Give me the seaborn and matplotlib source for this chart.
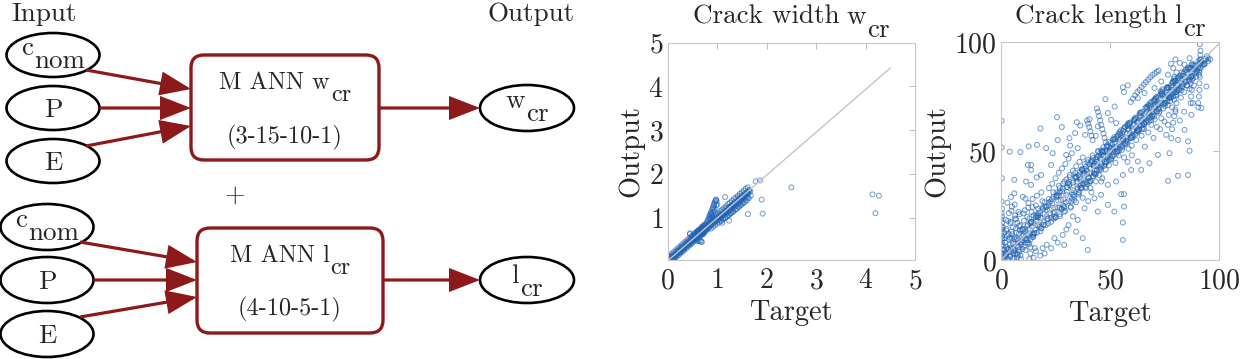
import matplotlib
matplotlib.use("Agg")
import numpy as np
import pandas as pd
import matplotlib.pyplot as plt
import matplotlib.transforms as mtransforms
from matplotlib.patches import Ellipse, FancyBboxPatch, FancyArrowPatch, ArrowStyle
import seaborn as sns

# ------------------------------------------------------------------ data
# Diagram text
input_labels = [("c", "nom"), ("P", None), ("E", None)]
model_names = [("M ANN w", "cr"), ("M ANN l", "cr")]
model_arch = ["(3-15-10-1)", "(4-10-5-1)"]
output_labels = [("w", "cr"), ("l", "cr")]

# Crack width w_cr : target / output
w_band1_t = [0.01, 0.02, 0.03, 0.05, 0.06, 0.08, 0.09, 0.11, 0.12, 0.14, 0.15, 0.17, 0.18, 0.20, 0.22, 0.23,
             0.25, 0.27, 0.28, 0.30, 0.32, 0.33, 0.35, 0.37, 0.38, 0.40, 0.42, 0.43, 0.45, 0.47, 0.48, 0.50]
w_band1_o = [0.05, 0.09, 0.04, 0.10, 0.05, 0.12, 0.07, 0.14, 0.09, 0.16, 0.12, 0.15, 0.21, 0.17, 0.25, 0.20,
             0.22, 0.30, 0.25, 0.27, 0.35, 0.29, 0.33, 0.40, 0.35, 0.37, 0.45, 0.39, 0.43, 0.50, 0.44, 0.47]
w_band1b_t = [0.02, 0.04, 0.07, 0.10, 0.13, 0.16, 0.19, 0.21, 0.24, 0.26, 0.29, 0.31, 0.34, 0.36, 0.39, 0.41,
              0.44, 0.46, 0.49, 0.52]
w_band1b_o = [0.02, 0.07, 0.06, 0.08, 0.11, 0.18, 0.16, 0.24, 0.20, 0.28, 0.33, 0.27, 0.31, 0.39, 0.42, 0.38,
              0.41, 0.48, 0.52, 0.49]
w_band2_t = [0.52, 0.54, 0.55, 0.57, 0.58, 0.60, 0.61, 0.63, 0.64, 0.66, 0.67, 0.69, 0.70, 0.72, 0.73, 0.75,
             0.76, 0.78, 0.79, 0.80]
w_band2_o = [0.56, 0.50, 0.60, 0.53, 0.62, 0.56, 0.66, 0.58, 0.69, 0.61, 0.72, 0.64, 0.76, 0.67, 0.78, 0.70,
             0.81, 0.73, 0.84, 0.76]
w_band2b_t = [0.53, 0.56, 0.59, 0.62, 0.65, 0.68, 0.71, 0.74, 0.77, 0.80, 0.60, 0.63, 0.66, 0.68, 0.45, 0.50,
              0.70, 0.74]
w_band2b_o = [0.53, 0.57, 0.59, 0.63, 0.65, 0.68, 0.72, 0.74, 0.77, 0.81, 0.47, 0.46, 0.47, 0.45, 0.62, 0.58,
              0.79, 0.83]
w_bulge_t = [0.55, 0.58, 0.60, 0.62, 0.64, 0.66, 0.68, 0.70, 0.72, 0.74, 0.57, 0.61, 0.65, 0.69, 0.73, 0.77]
w_bulge_o = [0.63, 0.66, 0.52, 0.70, 0.57, 0.73, 0.60, 0.77, 0.62, 0.69, 0.49, 0.69, 0.58, 0.74, 0.65, 0.72]
w_band3_t = [0.81, 0.83, 0.84, 0.86, 0.87, 0.89, 0.90, 0.92, 0.93, 0.95, 0.96, 0.98, 0.99, 1.01, 1.02, 1.04]
w_band3_o = [0.80, 0.86, 0.78, 0.89, 0.82, 0.91, 0.85, 0.95, 0.87, 0.97, 0.90, 1.00, 0.92, 1.02, 0.95, 1.05]
w_tongue_t = [0.80, 0.82, 0.84, 0.85, 0.87, 0.88, 0.90, 0.91, 0.92, 0.93, 0.94, 0.95, 0.96, 0.97, 0.98, 0.99,
              0.86, 0.89, 0.92, 0.95, 0.98, 1.00, 0.84, 0.88, 0.90, 0.94]
w_tongue_o = [0.92, 0.97, 1.02, 1.06, 1.10, 1.13, 1.18, 1.21, 1.24, 1.28, 1.31, 1.34, 1.37, 1.40, 1.41, 1.38,
              1.00, 1.05, 1.12, 1.20, 1.28, 1.30, 0.95, 1.08, 1.02, 1.15]
w_band4_t = [1.05, 1.07, 1.08, 1.10, 1.12, 1.13, 1.15, 1.17, 1.18, 1.20, 1.22, 1.23, 1.25, 1.27, 1.28, 1.30,
             1.32, 1.33, 1.35, 1.37, 1.38, 1.40, 1.42, 1.43, 1.45, 1.47, 1.48, 1.50, 1.52, 1.53, 1.55, 1.57,
             1.58, 1.60, 1.62, 1.63, 1.65, 1.67]
w_band4_o = [1.08, 0.93, 1.02, 1.12, 0.97, 1.06, 1.16, 1.00, 1.10, 1.22, 1.05, 1.14, 1.25, 1.09, 1.18, 1.30,
             1.14, 1.22, 1.35, 1.19, 1.27, 1.41, 1.25, 1.32, 1.46, 1.30, 1.37, 1.50, 1.35, 1.42, 1.55, 1.40,
             1.48, 1.58, 1.46, 1.54, 1.62, 1.60]
w_band4b_t = [1.06, 1.09, 1.11, 1.14, 1.16, 1.19, 1.21, 1.24, 1.26, 1.29, 1.31, 1.34, 1.36, 1.39, 1.41, 1.44,
              1.46, 1.49, 1.51, 1.54, 1.56, 1.59, 1.61, 1.64]
w_band4b_o = [1.00, 1.05, 1.08, 1.09, 1.13, 1.15, 1.18, 1.20, 1.24, 1.25, 1.28, 1.30, 1.33, 1.35, 1.38, 1.40,
              1.42, 1.45, 1.47, 1.50, 1.52, 1.55, 1.57, 1.63]
w_extra_t = [0.03, 0.07, 0.11, 0.13, 0.18, 0.21, 0.26, 0.29, 0.33, 0.36, 0.41, 0.44, 0.47, 0.51, 0.55, 0.58,
             0.62, 0.65, 0.69, 0.72, 0.75, 0.78, 0.82, 0.85, 0.88, 0.91, 0.94, 0.97, 1.00, 1.03, 1.06, 1.09,
             1.12, 1.15, 1.18, 1.21, 1.24, 1.27, 1.30, 1.33, 1.36, 1.39, 1.42, 1.45, 1.48, 1.51, 1.54, 1.57,
             1.60, 1.63]
w_extra_o = [0.08, 0.04, 0.13, 0.08, 0.15, 0.23, 0.22, 0.32, 0.30, 0.34, 0.43, 0.40, 0.49, 0.48, 0.58, 0.55,
             0.60, 0.67, 0.66, 0.75, 0.71, 0.80, 0.77, 0.84, 0.83, 0.88, 0.92, 0.93, 0.97, 0.99, 1.03, 1.06,
             1.05, 1.12, 1.14, 1.12, 1.20, 1.22, 1.21, 1.29, 1.31, 1.33, 1.38, 1.39, 1.43, 1.45, 1.48, 1.52,
             1.53, 1.58]
w_wide_t = [0.04, 0.08, 0.12, 0.16, 0.20, 0.24, 0.28, 0.32, 0.36, 0.40, 0.44, 0.48, 0.52, 0.56, 0.60, 0.64,
            0.68, 0.72, 0.76, 0.80, 0.06, 0.10, 0.14, 0.18, 0.22, 0.26, 0.30, 0.34, 0.38, 0.42, 0.46, 0.50,
            0.54, 0.58, 0.62, 0.66, 0.70, 0.74, 0.78, 0.82]
w_wide_o = [0.13, 0.17, 0.21, 0.25, 0.29, 0.33, 0.37, 0.41, 0.45, 0.49, 0.53, 0.57, 0.61, 0.65, 0.69, 0.73,
            0.77, 0.81, 0.85, 0.89, 0.05, 0.04, 0.07, 0.10, 0.14, 0.18, 0.22, 0.26, 0.30, 0.34, 0.38, 0.42,
            0.46, 0.50, 0.54, 0.58, 0.62, 0.66, 0.70, 0.74]
w_wide2_t = [0.86, 0.90, 0.94, 0.98, 1.02, 1.06, 1.10, 1.14, 1.18, 1.22, 1.26, 1.30, 1.34, 1.38, 1.42, 1.46,
             1.50, 1.54, 1.58, 1.62, 0.88, 0.92, 0.96, 1.00, 1.04, 1.08, 1.12, 1.16, 1.20, 1.24, 1.28, 1.32,
             1.36, 1.40, 1.44, 1.48, 1.52, 1.56, 1.60, 1.64]
w_wide2_o = [0.96, 0.99, 1.04, 1.07, 1.10, 1.15, 1.18, 1.22, 1.26, 1.31, 1.34, 1.38, 1.43, 1.46, 1.50, 1.54,
             1.58, 1.62, 1.66, 1.69, 0.75, 0.79, 0.83, 0.86, 0.89, 0.92, 0.96, 0.99, 1.02, 1.06, 1.10, 1.13,
             1.17, 1.20, 1.24, 1.28, 1.32, 1.35, 1.39, 1.44]
w_outlier_t = [1.16, 1.24, 1.62, 1.92, 1.90, 1.68, 1.78, 1.87, 2.50, 4.14, 4.27, 4.20, 0.45, 0.69, 1.10]
w_outlier_o = [1.47, 0.93, 1.08, 1.09, 1.41, 1.50, 1.83, 1.85, 1.69, 1.53, 1.50, 1.10, 0.64, 0.44, 0.88]
w_fit_t = [0.0, 4.5]
w_fit_o = [0.01, 4.42]

# Crack length l_cr : target / output
l_col0_t = [0.2, 0.4, 0.3, 0.5, 0.2, 0.4, 0.3, 0.5, 0.2, 0.4, 0.3, 0.5, 0.2, 0.4, 0.3, 0.5, 0.2, 0.4, 0.3, 0.3]
l_col0_o = [0.5, 2, 3.5, 5, 6.5, 8, 9.5, 11, 12.5, 14, 15.5, 17, 18.5, 20, 21.5, 23.5, 26.8, 37.5, 51.6, 63.9]
l_orig_t = [1.2, 1.5, 1.8, 2.2, 2.5, 2.8, 3.2, 3.5, 3.8, 4.2, 4.5, 4.8, 5.2, 5.5, 5.8, 6.2, 6.5, 6.8, 7.2, 7.5,
            7.8, 8.2, 8.5, 8.8, 9.2, 9.5, 9.8]
l_orig_o = [1.0, 4.5, 8.0, 2.0, 6.0, 11.0, 0.5, 3.5, 9.5, 1.5, 5.5, 13.0, 0.8, 7.5, 4.0, 10.5, 2.5, 14.5, 6.5,
            1.2, 9.0, 12.0, 3.8, 16.0, 7.5, 11.0, 5.0]
l_orig2_t = [1.0, 2.0, 3.0, 4.0, 5.0, 6.0, 7.0, 8.0, 9.0, 10.0, 1.5, 2.5, 3.5, 4.5, 5.5, 6.5, 7.5, 8.5, 9.5, 10.5,
             0.8, 2.2, 3.6, 5.0]
l_orig2_o = [2.5, 3.0, 5.0, 7.0, 10.0, 4.5, 12.5, 6.0, 2.0, 9.0, 10.0, 13.5, 12.0, 17.5, 15.0, 19.0, 17.0, 21.0,
             14.0, 18.0, 15.0, 18.5, 21.5, 24.5]
l_orig3_t = [0.9, 1.7, 2.6, 3.4, 4.3, 5.1, 6.0, 6.9, 7.7, 8.6, 9.4, 10.3, 11.2, 12.1, 13.0, 13.9, 14.8, 0.6, 1.4,
             2.3, 3.1, 4.0, 4.8, 5.7, 6.5, 7.4, 8.3, 9.1, 10.0, 10.9, 11.7, 12.6, 13.5, 14.4, 15.3, 16.1, 2.9,
             4.6, 6.3, 8.0]
l_orig3_o = [6.8, 0.3, 14.2, 4.9, 16.8, 11.8, 0.9, 18.7, 2.4, 13.7, 8.3, 21.4, 4.6, 19.8, 7.2, 17.3, 11.4, 9.8,
             12.7, 1.6, 17.9, 10.2, 22.6, 5.2, 20.4, 3.1, 15.6, 0.4, 13.9, 22.8, 9.3, 26.1, 5.8, 24.3, 12.2, 19.7,
             26.3, 28.9, 25.4, 22.1]
l_b_t = [10.5, 11.0, 11.5, 12.0, 12.5, 13.0, 13.5, 14.0, 14.5, 15.0, 15.5, 16.0, 16.5, 17.0, 17.5, 18.0, 18.5,
         19.0, 19.5, 20.0]
l_b_o = [6.0, 13.0, 9.5, 15.5, 8.0, 19.0, 12.0, 22.0, 10.5, 17.0, 14.0, 25.0, 12.5, 19.5, 16.0, 22.5, 14.5, 27.0,
         17.5, 21.0]
l_b2_t = [11.0, 12.0, 13.0, 14.0, 15.0, 16.0, 17.0, 18.0, 19.0, 20.0, 12.5, 14.5, 16.5, 18.5, 13.5, 15.5]
l_b2_o = [10.0, 11.5, 14.5, 17.5, 20.5, 18.0, 23.5, 19.5, 24.0, 26.5, 24.0, 28.0, 29.5, 31.0, 3.0, 5.5]
l_c_t = [20.5, 21.0, 21.5, 22.0, 22.5, 23.0, 23.5, 24.0, 24.5, 25.0, 25.5, 26.0, 26.5, 27.0, 27.5, 28.0, 28.5,
         29.0, 29.5, 30.0, 30.5, 31.0, 31.5, 32.0, 32.5, 33.0, 33.5, 34.0, 34.5, 35.0]
l_c_o = [16.0, 24.5, 19.0, 28.0, 21.5, 17.5, 26.0, 31.0, 22.0, 19.5, 29.5, 24.0, 34.0, 21.0, 27.5, 31.5, 25.0,
         36.0, 22.5, 30.0, 33.5, 27.0, 38.0, 24.5, 31.0, 35.5, 29.0, 40.0, 26.5, 33.5]
l_cs_t = [24, 25.5, 27, 28.5, 30, 31.5, 33, 34.5, 36, 37.5, 22, 23.5, 25, 26.5, 28, 29.5, 31, 32.5]
l_cs_o = [29, 31, 33, 35, 37, 39, 41, 43, 45, 47, 33, 35, 37.5, 40, 42, 44, 46.5, 49]
l_d_t = [35.5, 36, 36.5, 37, 37.5, 38, 38.5, 39, 39.5, 40, 40.5, 41, 41.5, 42, 42.5, 43, 43.5, 44, 44.5, 45,
         45.5, 46, 46.5, 47, 47.5, 48, 48.5, 49, 49.5, 50]
l_d_o = [30.0, 38.0, 34.5, 41.5, 28.5, 36.5, 44.0, 33.0, 39.5, 46.0, 35.5, 42.0, 31.0, 48.0, 38.5, 44.5, 36.0,
         41.0, 50.0, 39.0, 46.5, 43.0, 37.5, 49.5, 45.0, 41.5, 52.0, 47.0, 43.5, 51.0]
l_d2_t = [35, 36.5, 38, 39.5, 41, 42.5, 44, 45.5, 47, 48.5, 50, 37, 40, 43, 46, 49]
l_d2_o = [36, 37, 40, 41, 42, 43, 45, 47, 48, 50, 50, 33, 38, 41, 44, 48]
l_ds_t = [48.5, 48, 47.5, 47, 46.5, 46, 45.5, 45, 44.5, 44, 43.5, 42, 41.5, 41, 40.5, 40, 39.5]
l_ds_o = [52, 54, 56, 58, 60, 62, 64, 66, 68, 69.5, 57, 55, 57, 59, 61, 62.5, 64]
l_e_t = [50.5, 51, 51.5, 52, 52.5, 53, 53.5, 54, 54.5, 55, 55.5, 56, 56.5, 57, 57.5, 58, 58.5, 59, 59.5, 60,
         60.5, 61, 61.5, 62, 62.5, 63, 63.5, 64, 64.5, 65]
l_e_o = [46.0, 53.0, 49.5, 55.5, 44.5, 51.0, 57.0, 48.0, 54.0, 59.5, 50.5, 56.5, 47.0, 61.0, 53.5, 58.0, 51.0,
         62.5, 56.0, 52.5, 60.0, 64.0, 57.5, 55.0, 63.0, 59.5, 66.5, 61.5, 57.0, 64.5]
l_e2_t = [50, 51.5, 53, 54.5, 56, 57.5, 59, 60.5, 62, 63.5, 65, 52, 55, 58, 61, 64]
l_e2_o = [50, 51, 52, 53, 55, 56, 58, 59, 61, 62, 63, 54, 57, 60, 62, 66]
l_f_t = [65.5, 66, 66.5, 67, 67.5, 68, 68.5, 69, 69.5, 70, 70.5, 71, 71.5, 72, 72.5, 73, 73.5, 74, 74.5, 75,
         75.5, 76, 76.5, 77, 77.5, 78, 78.5, 79, 79.5, 80]
l_f_o = [60.0, 67.0, 63.5, 69.5, 58.5, 65.0, 71.0, 62.0, 68.0, 73.0, 64.5, 70.5, 61.0, 74.5, 67.5, 72.0, 65.0,
         76.0, 69.5, 63.5, 73.5, 78.0, 71.0, 66.5, 75.5, 80.0, 70.0, 77.0, 73.5, 68.0]
l_f2_t = [66, 67.5, 69, 70.5, 72, 73.5, 75, 76.5, 78, 79.5, 68, 71, 74, 77, 80]
l_f2_o = [65, 66, 68, 70, 71, 72, 74, 75, 76, 78, 70, 74, 76, 79, 82]
l_col80_t = [78.5, 79, 79.5, 80, 80.5, 79, 78.5, 80, 79.5, 80.5, 79, 78, 80, 79.5]
l_col80_o = [60, 63, 66, 69, 72, 75, 78, 81, 84, 86, 88, 90, 92, 82]
l_g_t = [80.5, 81, 81.5, 82, 82.5, 83, 83.5, 84, 84.5, 85, 85.5, 86, 86.5, 87, 87.5, 88, 88.5, 89, 89.5, 90]
l_g_o = [76.0, 80.5, 78.0, 83.0, 74.5, 79.5, 84.5, 77.0, 82.0, 86.0, 80.0, 84.0, 78.5, 88.0, 82.5, 86.5, 80.0,
         89.0, 84.0, 87.5]
l_col87_t = [87, 87.2, 87.5, 87, 87.3, 87.6]
l_col87_o = [72, 75, 78, 81, 84, 90]
l_col91_t = [90.5, 90.5, 90.8, 91, 91, 91.2, 91, 91.5, 91.3, 91.6, 91.4, 91.5, 91.2, 91.0, 90.8]
l_col91_o = [70, 72, 75, 78, 81, 84, 86, 88, 90, 92, 94, 96, 99, 87, 85]
l_top_t = [92, 93, 94, 95, 96, 93.5, 94.5]
l_top_o = [91, 91.5, 92, 92.5, 92, 90, 93.5]
l_chain_t = [59.5, 60.5, 61.5, 62.5, 63.5, 64.5, 65.5, 66.5, 67.5, 68.5, 69.5, 70.5, 71.5, 72.3]
l_chain_o = [72.5, 74, 75.5, 77, 78, 79.3, 80.5, 81.6, 82.7, 83.8, 84.8, 85.6, 86.3, 86.9]
l_bx_t = [3.3, 5.7, 7.1, 9.4, 10.8, 12.2, 13.9, 15.3, 16.8, 17.7, 19.2, 21.3, 22.8, 24.1, 25.6, 26.9, 28.4,
          29.8, 31.2, 32.7, 33.9, 35.1, 36.3, 37.8, 38.9, 40.2, 41.4, 42.7, 43.9, 45.2, 46.4, 47.6, 48.8, 50.1,
          51.3, 52.6, 53.8, 55.1, 56.3, 57.4, 58.6, 59.9, 61.1, 62.4, 63.6, 64.9, 66.2, 67.3, 68.6, 69.8, 71.1,
          72.4, 73.6, 74.8, 76.1, 77.3, 78.6, 79.8, 81.1, 82.3, 83.6, 84.8, 86.1, 87.4, 88.6, 89.9, 91.2, 92.4,
          93.7, 94.9]
l_bx_o = [5.1, 3.2, 9.8, 6.9, 14.2, 9.1, 17.6, 12.4, 20.1, 15.2, 23.4, 18.7, 26.9, 21.3, 29.7, 24.1, 32.8,
          26.5, 35.9, 30.1, 37.8, 32.6, 40.5, 34.9, 42.8, 37.5, 45.6, 39.8, 47.1, 42.6, 49.9, 44.8, 52.7, 47.3,
          55.2, 49.6, 57.8, 52.4, 60.1, 54.8, 62.9, 56.7, 64.5, 59.1, 67.3, 61.8, 69.7, 64.2, 72.1, 66.9, 74.6,
          69.3, 76.8, 71.9, 78.9, 74.6, 81.2, 76.8, 83.5, 79.1, 85.4, 81.7, 87.8, 84.2, 89.1, 86.8, 90.5, 89.2,
          92.3, 91.1]
l_by_t = [4.1, 6.3, 8.2, 10.1, 11.9, 13.4, 14.8, 16.2, 18.1, 19.9, 21.7, 23.4, 25.2, 27.1, 28.9, 30.6, 32.3,
          34.2, 35.8, 37.3, 38.6, 39.7, 41.0, 42.2, 43.3, 44.6, 45.8, 47.0, 48.3, 49.4, 50.7, 51.9, 53.2, 54.4,
          55.6, 56.8, 58.0, 59.3, 60.5, 61.7, 62.9, 64.1, 65.4, 66.6, 67.8, 69.0, 70.3, 71.5, 72.7, 73.9, 75.2,
          76.4, 77.6, 78.9, 80.2, 81.5, 82.8, 84.1, 85.3, 86.6]
l_by_o = [1.8, 9.5, 4.6, 13.8, 7.9, 16.9, 10.6, 20.8, 13.2, 24.6, 16.8, 27.9, 19.6, 31.3, 23.8, 35.2, 26.9,
          38.4, 30.7, 41.6, 33.4, 44.8, 36.1, 46.9, 39.2, 49.7, 41.3, 51.8, 44.9, 54.2, 46.7, 56.3, 49.8, 58.7,
          51.6, 60.9, 54.2, 63.1, 56.4, 65.3, 58.9, 67.7, 60.7, 70.2, 63.4, 72.6, 65.8, 74.9, 68.1, 77.3, 70.6,
          79.4, 72.9, 81.8, 75.3, 83.6, 77.8, 86.4, 80.1, 88.2]
l_bz_t = [17.2, 19.6, 21.9, 24.4, 26.6, 29.1, 31.5, 33.4, 35.7, 37.1, 39.3, 41.8, 43.5, 45.6, 47.3, 49.8, 51.6,
          53.4, 55.8, 57.9, 59.5, 61.4, 63.2, 65.7, 67.6, 69.4, 71.7, 73.2, 75.6, 77.8, 79.4, 81.7, 83.2, 85.7,
          87.9, 89.3, 91.8, 93.2, 21.2, 27.8, 34.4, 40.9, 46.1, 52.9, 58.1, 64.7, 70.5, 76.4, 82.9, 88.1, 36.6,
          44.8, 54.6, 62.2, 68.9, 74.1, 80.6, 86.3, 42.6, 56.9]
l_bz_o = [21.4, 16.2, 26.3, 20.1, 30.8, 24.6, 34.9, 29.8, 31.2, 41.3, 34.7, 45.2, 39.6, 49.3, 43.2, 46.1, 55.3,
          49.7, 52.4, 61.8, 55.9, 64.7, 59.8, 62.4, 71.3, 65.8, 68.2, 77.4, 72.1, 74.6, 83.2, 78.4, 80.7, 88.3,
          84.6, 87.9, 90.2, 89.7, 22.9, 23.4, 37.9, 36.2, 50.3, 48.7, 62.3, 60.1, 73.8, 72.9, 86.1, 83.4, 33.2,
          47.8, 57.9, 58.4, 64.2, 78.3, 77.1, 82.6, 44.1, 53.2]
l_bw_t = [35.4, 36.9, 38.3, 39.8, 41.2, 42.9, 44.3, 45.7, 47.2, 48.6, 50.3, 51.7, 53.1, 54.5, 56.0, 57.6, 59.0,
          60.4, 61.9, 63.3, 64.8, 66.4, 67.8, 69.2, 70.7, 72.1, 73.7, 75.2, 76.6, 78.0, 79.5, 81.0, 82.4, 83.9,
          85.4, 86.9, 88.3, 89.8, 91.3, 92.8, 35.9, 37.6, 39.1, 40.5, 42.1, 43.7, 45.1, 46.6, 48.0, 49.6, 51.1,
          52.5, 54.0, 55.4, 57.0, 58.4, 59.8, 61.3, 62.7, 64.2, 65.7, 67.1, 68.6, 70.1, 71.5, 73.0, 74.4, 75.9,
          77.4, 78.8, 80.3, 81.8, 83.2, 84.7, 86.1, 87.6, 89.1, 90.6, 12.3, 14.7, 17.1, 19.4, 21.8, 24.2, 26.5,
          28.9, 31.3, 33.6, 13.5, 15.9, 18.3, 20.6, 23.0, 25.4, 27.7, 30.1, 32.5, 34.8, 11.2, 16.4]
l_bw_o = [38.9, 33.1, 41.7, 36.2, 44.8, 39.6, 47.3, 42.1, 50.2, 45.3, 53.6, 48.1, 56.4, 51.2, 59.3, 54.7, 62.2,
          57.1, 65.0, 60.2, 67.9, 63.1, 70.8, 66.3, 73.4, 69.2, 76.5, 72.0, 79.1, 74.8, 82.4, 77.9, 84.6, 80.8,
          87.3, 83.6, 89.7, 86.4, 91.9, 89.9, 34.1, 40.8, 35.7, 43.9, 38.4, 46.2, 41.5, 49.3, 44.1, 52.0, 47.6,
          55.4, 50.1, 58.2, 53.7, 61.4, 56.2, 64.1, 59.6, 67.3, 62.4, 70.2, 65.6, 72.9, 68.3, 75.8, 71.3, 78.7,
          74.2, 81.5, 77.0, 84.3, 79.6, 87.2, 82.1, 89.4, 85.8, 88.2, 16.1, 11.8, 20.4, 16.3, 25.1, 18.9, 29.6,
          22.1, 34.3, 27.4, 9.4, 19.8, 14.6, 24.3, 19.1, 28.8, 23.6, 33.4, 28.1, 37.9, 28.1, 37.9]
l_core_t = [2.4, 4.7, 6.6, 8.9, 10.4, 12.6, 14.3, 16.7, 18.4, 20.9, 22.3, 24.8, 26.2, 28.7, 30.3, 32.9, 34.6,
            36.8, 38.2, 40.7, 42.4, 44.1, 46.9, 48.2, 50.6, 52.3, 54.7, 56.1, 58.8, 60.2, 62.7, 64.4, 66.9,
            68.1, 70.8, 72.2, 74.5, 76.7, 78.3, 80.9, 82.6, 84.4, 86.8, 88.3, 90.6]
l_core_o = [2.9, 4.1, 7.5, 8.2, 11.3, 12.0, 15.1, 15.8, 19.2, 20.1, 23.1, 24.0, 27.3, 27.9, 31.2, 32.1, 35.4,
            35.9, 39.1, 39.8, 43.3, 43.5, 47.8, 47.4, 51.5, 51.6, 55.5, 55.4, 59.7, 59.3, 63.5, 63.6, 67.8,
            67.2, 71.5, 71.4, 75.3, 75.8, 79.1, 79.9, 83.4, 83.6, 87.5, 87.6, 91.3]
l_above_t = [8.9, 12.7, 16.5, 18.1, 25.7, 27.9, 34.8, 36.4, 40.6, 34.0, 38.6, 31.7, 20.7, 23.7, 23.0, 18.4,
             13.8, 12.3, 11.5, 13.8, 6.1, 6.1, 10.0, 13.8, 47.9, 55.9, 58.2, 56.4, 50.5, 52.8, 29.9, 35.2,
             26.0, 31.4, 44.4, 49.0, 52.1, 62.8, 65.8, 70.4, 73.5, 76.6, 82.0, 84.2, 86.5, 4.0]
l_above_o = [49.5, 52.1, 52.8, 60.3, 65.5, 61.0, 63.2, 61.7, 64.6, 58.2, 57.4, 52.5, 51.3, 49.0, 43.6, 39.0,
             41.3, 43.6, 36.0, 34.5, 36.8, 30.6, 29.0, 43.6, 73.8, 79.2, 80.1, 77.0, 64.3, 62.8, 48.2, 51.3,
             55.0, 55.9, 61.3, 67.4, 70.4, 74.3, 76.6, 78.9, 81.9, 85.0, 90.4, 89.6, 92.6, 49.7]
l_below_t = [55.9, 55.9, 55.1, 56.4, 56.4, 76.6, 81.2, 85.8, 77.3, 81.2, 85.8, 86.5, 84.2, 94.2, 91.9, 87.3,
             39.8, 37.5, 34.5, 29.0, 28.3, 24.5, 23.0, 19.1, 49.0, 42.9, 45.9, 38.3, 35.2, 44.4, 49.0, 52.0,
             52.8, 55.9, 59.7, 62.8, 64.3, 68.1, 72.0, 75.8, 78.1, 76.6, 31.0, 33.0, 40.0, 41.0, 46.0, 58.0,
             60.0, 66.0, 70.0, 73.0, 82.0, 84.0, 88.0, 15.0, 18.0, 13.0, 20.0, 16.0, 21.0, 26.0, 30.0, 27.0, 32.0]
l_below_o = [9.2, 17.2, 30.2, 30.2, 24.5, 36.3, 38.6, 39.0, 49.0, 55.1, 54.4, 50.1, 59.7, 79.6, 69.7, 66.6,
             4.6, 10.0, 13.0, 6.9, 11.5, 10.0, 5.4, 5.4, 34.5, 28.3, 29.9, 23.7, 18.4, 22.2, 25.3, 22.2,
             36.0, 39.0, 41.3, 45.2, 41.3, 44.4, 48.2, 57.4, 55.9, 62.0, 16.0, 20.0, 27.0, 33.0, 36.0, 45.0,
             48.0, 52.0, 56.0, 60.0, 64.0, 68.0, 72.0, 1.0, 2.0, 0.5, 3.0, 4.0, 7.0, 8.0, 14.0, 20.0, 24.0]
l_fit_t = [0.0, 100.0]
l_fit_o = [0.2, 99.2]

w_x_ticks = [0, 1, 2, 3, 4, 5]
w_y_ticks = [1, 2, 3, 4, 5]
l_ticks = [0, 50, 100]

w_df = pd.DataFrame({
    "Target": np.concatenate([w_band1_t, w_band1b_t, w_band2_t, w_band2b_t, w_bulge_t, w_band3_t, w_tongue_t,
                              w_band4_t, w_band4b_t, w_extra_t, w_wide_t, w_wide2_t, w_outlier_t]),
    "Output": np.concatenate([w_band1_o, w_band1b_o, w_band2_o, w_band2b_o, w_bulge_o, w_band3_o, w_tongue_o,
                              w_band4_o, w_band4b_o, w_extra_o, w_wide_o, w_wide2_o, w_outlier_o]),
})
l_df = pd.DataFrame({
    "Target": np.concatenate([l_col0_t, l_orig_t, l_orig2_t, l_orig3_t, l_b_t, l_b2_t, l_c_t, l_cs_t, l_d_t,
                              l_d2_t, l_ds_t, l_e_t, l_e2_t, l_f_t, l_f2_t, l_col80_t, l_g_t, l_col87_t,
                              l_col91_t, l_top_t, l_chain_t, l_bx_t, l_by_t, l_bz_t, l_bw_t, l_core_t,
                              l_above_t, l_below_t]),
    "Output": np.concatenate([l_col0_o, l_orig_o, l_orig2_o, l_orig3_o, l_b_o, l_b2_o, l_c_o, l_cs_o, l_d_o,
                              l_d2_o, l_ds_o, l_e_o, l_e2_o, l_f_o, l_f2_o, l_col80_o, l_g_o, l_col87_o,
                              l_col91_o, l_top_o, l_chain_o, l_bx_o, l_by_o, l_bz_o, l_bw_o, l_core_o,
                              l_above_o, l_below_o]),
})

# ------------------------------------------------------------------ style
sns.set_theme(style="white")
plt.rcParams["font.family"] = ["cmr10", "DejaVu Serif"]
plt.rcParams["mathtext.fontset"] = "cm"
plt.rcParams["axes.formatter.use_mathtext"] = True

TEXT = "#262626"
RED = "#8c1a1a"
BLUE = "#1f63b3"
FIT_GRAY = "#c4c4c4"

fig = plt.figure(figsize=(12.42, 3.59), dpi=100)
renderer = fig.canvas.get_renderer()


def compound(ax, x, y, parts, size, transform=None, dy0=0.0):
    """Draw text pieces side by side (centred at x); parts = (text, gap_px, drop_px)."""
    tr = transform if transform is not None else ax.transData
    arts = [ax.text(x, y, s, fontsize=size, ha="left", va="baseline", color=TEXT, transform=tr)
            for s, _, _ in parts]
    widths = [a.get_window_extent(renderer).width for a in arts]
    total = sum(widths) + sum(p[1] for p in parts)
    cur = -total / 2.0
    for a, w, (s, gap, drop) in zip(arts, widths, parts):
        cur += gap
        a.set_transform(mtransforms.offset_copy(tr, fig=fig, x=cur, y=dy0 - drop, units="dots"))
        cur += w
    return arts


# ------------------------------------------------------------------ diagram
axd = fig.add_axes([0, 0, 621 / 1242, 1])
axd.set_xlim(0, 621)
axd.set_ylim(359, 0)
axd.axis("off")

axd.text(44, 20.5, "Input", fontsize=19.5, ha="center", va="baseline", color=TEXT)
axd.text(531, 20.5, "Output", fontsize=19.5, ha="center", va="baseline", color=TEXT)
axd.text(235, 203, "+", fontsize=19, ha="center", va="baseline", color=TEXT)

groups = [
    dict(in_x=53, in_y=[55, 108, 161], in_h=44, box=(191, 55, 188, 105),
         starts=[(86, 70), (99.5, 108), (86, 146)], tips=[(191, 89), (191, 108), (191, 126)],
         out_c=(527, 108), out_base=108, name_y=89, arch_y=143),
    dict(in_x=47, in_y=[227, 280, 334], in_h=46, box=(197, 228, 186, 105),
         starts=[(80, 242), (93.5, 280), (80, 317)], tips=[(197, 262), (197, 280), (197, 297)],
         out_c=(527, 280), out_base=283, name_y=262, arch_y=315),
]

astyle = ArrowStyle("-|>", head_length=18, head_width=7)
for gi, g in enumerate(groups):
    for (lab, sub), cy in zip(input_labels, g["in_y"]):
        axd.add_patch(Ellipse((g["in_x"], cy), 93, g["in_h"], fill=False, ec="black", lw=1.9))
        if sub:
            compound(axd, g["in_x"], cy, [(lab, 0, 0), (sub, 1, 13)], 19.5)
        else:
            compound(axd, g["in_x"], cy + 9, [(lab, 0, 0)], 19.5)
    bx, by, bw, bh = g["box"]
    axd.add_patch(FancyBboxPatch((bx, by), bw, bh, boxstyle="round,pad=0,rounding_size=13",
                                 fc="white", ec=RED, lw=2.4, zorder=3))
    cx = bx + bw / 2
    nm, sb = model_names[gi]
    compound(axd, cx, g["name_y"], [(nm, 0, 0), (sb, 1, 12)], 17.5)
    compound(axd, cx, g["arch_y"], [(model_arch[gi], 0, 0)], 17.5)
    for s, t in zip(g["starts"], g["tips"]):
        axd.add_patch(FancyArrowPatch(s, t, arrowstyle=astyle, mutation_scale=1, lw=2.3, color=RED,
                                      shrinkA=0, shrinkB=0, joinstyle="miter", capstyle="butt", zorder=4))
    ox, oy = g["out_c"]
    axd.add_patch(FancyArrowPatch((bx + bw, oy), (ox - 47, oy), arrowstyle=astyle, mutation_scale=1,
                                  lw=2.3, color=RED, shrinkA=0, shrinkB=0, joinstyle="miter",
                                  capstyle="butt", zorder=4))
    axd.add_patch(Ellipse((ox, oy), 94, 46, fill=False, ec="black", lw=1.9))
    ol, osb = output_labels[gi]
    compound(axd, ox, g["out_base"], [(ol, 0, 0), (osb, 1, 13)], 19.5)

# ------------------------------------------------------------------ scatter plots
ax1 = fig.add_axes([667.7 / 1242, 1 - 259.5 / 359, (915 - 667.7) / 1242, (259.5 - 42.7) / 359])
ax2 = fig.add_axes([1001 / 1242, 1 - 260 / 359, 218 / 1242, 218 / 359])

for ax, df, ft, fo in [(ax1, w_df, w_fit_t, w_fit_o), (ax2, l_df, l_fit_t, l_fit_o)]:
    sns.scatterplot(data=df, x="Target", y="Output", ax=ax, marker="o", s=12.5, facecolor="none",
                    edgecolor=BLUE, linewidth=0.75, alpha=0.6, legend=False, zorder=2)
    sns.lineplot(x=ft, y=fo, ax=ax, color=FIT_GRAY, linewidth=1.0, zorder=3)
    for sp in ax.spines.values():
        sp.set_color("#c8c8c8")
        sp.set_linewidth(0.8)
    ax.tick_params(axis="both", direction="in", length=4, width=0.6, color="#b0b0b0",
                   labelsize=20, labelcolor=TEXT, top=True, right=True)
    ax.tick_params(axis="x", pad=6)
    ax.tick_params(axis="y", pad=3)
    ax.set_xlabel("Target", fontsize=20.5, labelpad=4, color=TEXT)
    ax.set_ylabel("Output", fontsize=20.5, labelpad=3, color=TEXT)

ax1.set_xlim(0, 5)
ax1.set_ylim(0.04, 5)
ax1.set_xticks(w_x_ticks)
ax1.set_yticks(w_y_ticks)
ax2.set_xlim(0, 100)
ax2.set_ylim(0, 100)
ax2.set_xticks(l_ticks)
ax2.set_yticks(l_ticks)

compound(ax1, 0.5, 1.0, [("Crack width", 0, 0), ("w", 7, 0), ("cr", 1, 13)], 19.5,
         transform=ax1.transAxes, dy0=19)
compound(ax2, 0.5, 1.0, [("Crack length", 0, 0), ("l", 7, 0), ("cr", 1, 13)], 19.5,
         transform=ax2.transAxes, dy0=19)

fig.savefig("out.png", dpi=100)
